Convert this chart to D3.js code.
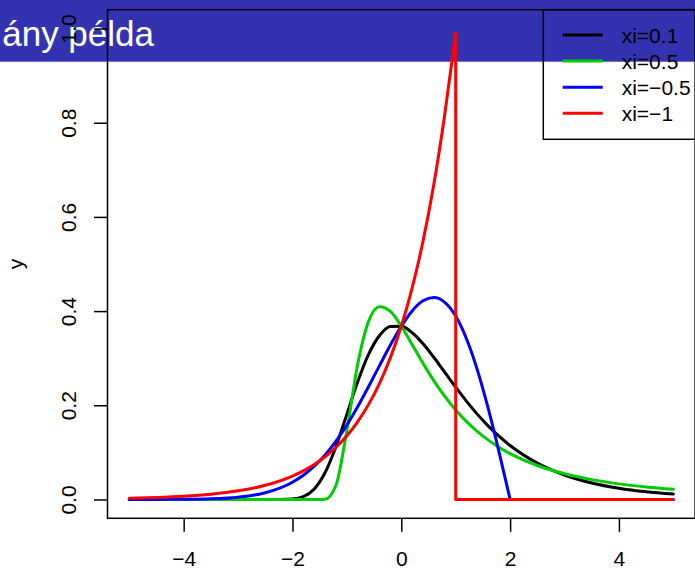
<!DOCTYPE html>
<html>
<head>
<meta charset="utf-8">
<script src="https://cdn.jsdelivr.net/npm/d3@7"></script>
<style>
  html, body { margin: 0; padding: 0; background: #fff; }
  svg { display: block; }
</style>
</head>
<body>
<svg id="chart"></svg>
<script>
'use strict';

const xGrid = [-5, -4.5, -4, -3.5, -3, -2.5, -2, -1.8, -1.6, -1.4, -1.2, -1, -0.8, -0.6, -0.4, -0.2,
  0, 0.2, 0.4, 0.6, 0.8, 1, 1.2, 1.4, 1.6, 1.8, 2, 2.5, 3, 3.5, 4, 4.5, 5];

const densXi01 = [0, 0, 0, 0, 0, 0, 0.0011, 0.0061, 0.0224, 0.0573, 0.1126, 0.1810, 0.2504, 0.3085, 0.3482, 0.3673,
  0.3679, 0.3541, 0.3306, 0.3014, 0.2699, 0.2384, 0.2083, 0.1807, 0.1558, 0.1338, 0.1145, 0.0771, 0.0519, 0.0351, 0.0239, 0.0164, 0.0114];
const densXi05 = [0, 0, 0, 0, 0, 0, 0, 0, 0, 0.0006, 0.0302, 0.1465, 0.2880, 0.3787, 0.4093, 0.3992,
  0.3679, 0.3288, 0.2890, 0.2519, 0.2188, 0.1900, 0.1652, 0.1440, 0.1260, 0.1105, 0.0974, 0.0721, 0.0545, 0.0421, 0.0331, 0.0265, 0.0215];
const densXiNeg05 = [0, 0.0001, 0.0004, 0.0014, 0.0048, 0.0142, 0.0366, 0.0514, 0.0705, 0.0945, 0.1237, 0.1581, 0.1972, 0.2399, 0.2843, 0.3280,
  0.3679, 0.4004, 0.4218, 0.4288, 0.4186, 0.3894, 0.3408, 0.2742, 0.1922, 0.0990, 0, 0, 0, 0, 0, 0, 0];
const densXiNeg1 = [0.0025, 0.0041, 0.0067, 0.0111, 0.0183, 0.0302, 0.0498, 0.0608, 0.0743, 0.0907, 0.1108, 0.1353, 0.1653, 0.2019, 0.2466, 0.3012,
  0.3679, 0.4493, 0.5488, 0.6703, 0.8187, 0.99, 0, 0, 0, 0, 0, 0, 0, 0, 0, 0, 0];

// upper end of the support (density drops to 0 there), null = none
const supportEnd = [null, null, 2, 1];

const legendLabels = ['xi=0.1', 'xi=0.5', 'xi=\u22120.5', 'xi=\u22121'];
const seriesColors = ['#000000', '#00cd00', '#0000ff', '#ff0000'];
const xTicks = [-4, -2, 0, 2, 4];
const yTicks = [0, 0.2, 0.4, 0.6, 0.8, 1];
const titleText = 'ány példa';

const width = 695;
const height = 570;
const FONT = '"Liberation Sans", Arial, Helvetica, sans-serif';
const FS = '21px';

const svg = d3.select('#chart')
  .attr('width', width)
  .attr('height', height);

// slide title banner (behind the plot)
svg.append('rect')
  .attr('x', 0).attr('y', 0)
  .attr('width', width).attr('height', 61.7)
  .attr('fill', '#3333b2');
svg.append('text')
  .attr('x', 154).attr('y', 45.7)
  .attr('text-anchor', 'end')
  .attr('font-family', FONT)
  .attr('font-size', '35px')
  .attr('fill', '#fff')
  .text(titleText);

const xScale = d3.scaleLinear().domain([-5.4, 5.4]).range([107.5, 695.1]);
const yScale = d3.scaleLinear().domain([-0.04, 1.04]).range([518.3, 9.7]);

// curves
const series = [densXi01, densXi05, densXiNeg05, densXiNeg1].map((vals, i) => ({
  points: xGrid.map((x, j) => [x, vals[j]]),
  color: seriesColors[i],
  end: supportEnd[i],
}));

const smooth = d3.line()
  .x(d => xScale(d[0]))
  .y(d => yScale(d[1]))
  .curve(d3.curveMonotoneX);
const straight = d3.line()
  .x(d => xScale(d[0]))
  .y(d => yScale(d[1]));

series.forEach((s) => {
  let paths = [];
  if (s.end === null) {
    paths.push(smooth(s.points));
  } else {
    const head = s.points.filter(p => p[0] <= s.end);
    const rest = s.points.filter(p => p[0] > s.end);
    paths.push(smooth(head));
    paths.push(straight([head[head.length - 1], [s.end, 0]].concat(rest)));
  }
  paths.forEach((p) => {
    svg.append('path')
      .attr('d', p)
      .attr('fill', 'none')
      .attr('stroke', s.color)
      .attr('stroke-width', 3)
      .attr('stroke-linejoin', 'round')
      .attr('stroke-linecap', 'round');
  });
});

// axes
const xAxis = svg.append('g')
  .attr('transform', `translate(0,${yScale(-0.04)})`)
  .call(d3.axisBottom(xScale).tickValues(xTicks).tickSize(13.5));
xAxis.select('.domain').remove();
xAxis.selectAll('line').attr('stroke-width', 1.5);
xAxis.selectAll('text')
  .attr('y', 48)
  .attr('dy', null)
  .attr('font-size', FS)
  .attr('font-family', FONT)
  .attr('fill', '#000');

const yAxis = svg.append('g')
  .attr('transform', `translate(${xScale(-5.4)},0)`)
  .call(d3.axisLeft(yScale).tickValues(yTicks).tickSize(13.5).tickFormat(d3.format('.1f')));
yAxis.select('.domain').remove();
yAxis.selectAll('line').attr('stroke-width', 1.5);
yAxis.selectAll('text')
  .attr('x', null)
  .attr('dy', null)
  .attr('text-anchor', 'middle')
  .attr('transform', 'translate(-31.5,0) rotate(-90)')
  .attr('font-size', FS)
  .attr('font-family', FONT)
  .attr('fill', '#000');

svg.append('text')
  .attr('transform', `translate(22.5,${(yScale(-0.04) + yScale(1.04)) / 2}) rotate(-90)`)
  .attr('text-anchor', 'middle')
  .attr('font-family', FONT)
  .attr('font-size', FS)
  .text('y');

// plot frame
svg.append('rect')
  .attr('x', xScale(-5.4)).attr('y', yScale(1.04))
  .attr('width', xScale(5.4) - xScale(-5.4))
  .attr('height', yScale(-0.04) - yScale(1.04))
  .attr('fill', 'none')
  .attr('stroke', '#000')
  .attr('stroke-width', 1.5);

// legend (top right, transparent)
const legend = svg.append('g');
legend.append('rect')
  .attr('x', 543.3).attr('y', yScale(1.04))
  .attr('width', 170).attr('height', 129.6)
  .attr('fill', 'none')
  .attr('stroke', '#000')
  .attr('stroke-width', 1.5);
legendLabels.forEach((lab, i) => {
  const ly = 35 + i * 26.1;
  legend.append('line')
    .attr('x1', 562.7).attr('x2', 602.7)
    .attr('y1', ly).attr('y2', ly)
    .attr('stroke', seriesColors[i])
    .attr('stroke-width', 3);
  legend.append('text')
    .attr('x', 621.7).attr('y', ly)
    .attr('dy', '0.36em')
    .attr('font-family', FONT)
    .attr('font-size', FS)
    .text(lab);
});
</script>
</body>
</html>
